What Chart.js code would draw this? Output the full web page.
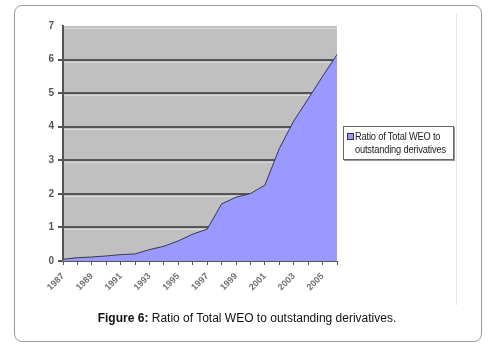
<!DOCTYPE html>
<html>
<head>
<meta charset="utf-8">
<script src="https://cdn.jsdelivr.net/npm/chart.js@4.4.0/dist/chart.umd.min.js"></script>
<style>
  body { margin: 0; background: #fff; }
  #wrap { position: relative; width: 494px; height: 352px; }
  #box {
    position: absolute; left: 14px; top: 5px; width: 466px; height: 335px;
    border: 1px solid #9a9a9a; border-radius: 8px; box-sizing: content-box;
  }
  #frame { position: absolute; left: 456px; top: 14px; width: 1px; height: 291px; background: #e6e6e6; }
  canvas { position: absolute; left: 0; top: 0; }
  #key {
    position: absolute; left: 343px; top: 126px; width: 111px; height: 34px;
    border: 1px solid #666; box-shadow: 1px 1px 0 #999; background: #fff;
    box-sizing: border-box;
  }
  #key .sw {
    position: absolute; left: 3px; top: 6px; width: 5px; height: 5px;
    background: #9999ff; border: 1px solid #333;
  }
  #keytext {
    position: absolute; left: 11px; top: 3px; white-space: nowrap;
    font: 10px "Liberation Sans", Arial, sans-serif; color: #222; line-height: 13px;
    transform: scaleX(0.93); transform-origin: left top; letter-spacing: -0.2px;
  }
  #cap {
    position: absolute; left: 0; width: 494px; top: 311px; text-align: center;
    font: 12px "Liberation Sans", Arial, sans-serif; color: #111;
  }
</style>
</head>
<body>
<div id="wrap">
  <div id="box"></div>
  <div id="frame"></div>
  <canvas id="c" width="494" height="352"></canvas>
  <div id="key"><span class="sw"></span><span id="keytext"></span></div>
  <div id="cap"><b>Figure 6:</b> Ratio of Total WEO to outstanding derivatives.</div>
</div>
<script>
const years = ['1987', '1988', '1989', '1990', '1991', '1992', '1993', '1994', '1995', '1996',
  '1997', '1998', '1999', '2000', '2001', '2002', '2003', '2004', '2005', '2006'];
const ratio = [0.05, 0.1, 0.12, 0.15, 0.19, 0.21, 0.34, 0.44, 0.6, 0.8,
  0.95, 1.7, 1.9, 2.01, 2.26, 3.35, 4.17, 4.83, 5.5, 6.15];
const seriesLabel = 'Ratio of Total WEO to outstanding derivatives';
const yMax = 7;

document.getElementById('keytext').innerHTML = 'Ratio of Total WEO to<br>outstanding derivatives';

// grey plot background with light 3D lines under the grid
const plotBg = {
  id: 'plotBg',
  beforeDraw(chart) {
    const { ctx, chartArea: a, scales } = chart;
    ctx.save();
    ctx.fillStyle = '#c0c0c0';
    ctx.fillRect(a.left, a.top, a.right - a.left, a.bottom - a.top);
    ctx.strokeStyle = '#dadada';
    ctx.lineWidth = 1;
    for (let v = 1; v <= yMax; v++) {
      const y = Math.round(scales.y.getPixelForValue(v)) + 2.5;
      ctx.beginPath();
      ctx.moveTo(a.left, y);
      ctx.lineTo(a.right, y);
      ctx.stroke();
    }
    ctx.restore();
  },
};

new Chart(document.getElementById('c'), {
  type: 'line',
  data: {
    labels: years,
    datasets: [{
      label: seriesLabel,
      data: ratio,
      fill: 'origin',
      backgroundColor: '#9999ff',
      borderColor: '#3a3a3a',
      borderWidth: 1,
      pointRadius: 0,
      tension: 0,
    }],
  },
  options: {
    responsive: false,
    animation: false,
    layout: { padding: { top: 26, right: 157, left: 0, bottom: 0 } },
    plugins: { legend: { display: false }, tooltip: { enabled: false } },
    scales: {
      x: {
        offset: false,
        afterFit(s) { s.height = 91; },
        border: { color: '#555', width: 1 },
        grid: { drawOnChartArea: false, tickLength: 4, color: '#555' },
        ticks: {
          autoSkip: false,
          maxRotation: 45,
          minRotation: 45,
          padding: 6,
          color: '#707070',
          font: { family: '"Liberation Sans", sans-serif', size: 9, weight: 'bold' },
          callback(v, i) { return i % 2 === 0 ? years[i] : ''; },
        },
      },
      y: {
        min: 0,
        max: yMax,
        afterFit(s) { s.width = 63; },
        border: { color: '#555', width: 2 },
        grid: {
          tickLength: 5,
          lineWidth: 2,
          color(c) { return c.tick.value === yMax ? 'rgba(0,0,0,0)' : '#555'; },
        },
        ticks: {
          stepSize: 1,
          padding: 4,
          color: '#555',
          font: { family: '"Liberation Sans", sans-serif', size: 10, weight: 'bold' },
        },
      },
    },
  },
  plugins: [plotBg],
});
</script>
</body>
</html>
